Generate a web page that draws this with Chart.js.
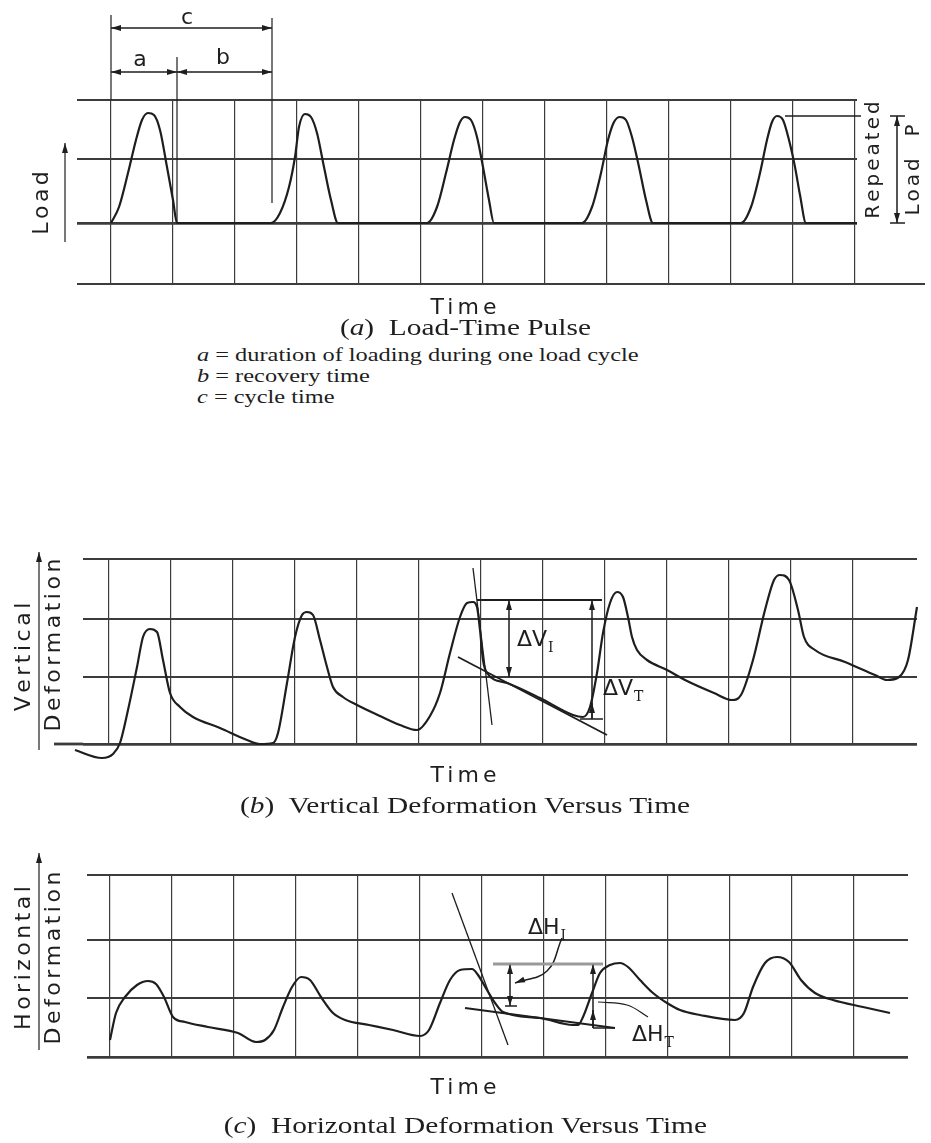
<!DOCTYPE html>
<html>
<head>
<meta charset="utf-8">
<title>Repeated load test: load and deformation versus time</title>
<script src="https://cdn.jsdelivr.net/npm/chart.js@4.4.1/dist/chart.umd.min.js"></script>
<style>
  body { margin: 0; background: #fff; }
  #page { position: relative; width: 931px; height: 1143px; overflow: hidden; background: #fff; }
  canvas { position: absolute; left: 0; }
  .time { position: absolute; left: 0; width: 931px; text-align: center; font: 22px/30px "DejaVu Sans", sans-serif; letter-spacing: 4px; color: #1e1e1e; }
  .cap { position: absolute; left: 0; width: 931px; text-align: center; color: #1e1e1e; }
  .cap span { display: inline-block; font: 23.5px/26px "Liberation Serif", serif; transform: scaleX(1.25); }
  .defs { position: absolute; left: 197px; font: 19.5px/21px "Liberation Serif", serif; color: #1e1e1e; transform: scaleX(1.25); transform-origin: left top; white-space: nowrap; }
</style>
</head>
<body>
<div id="page">
  <canvas id="loadChart" width="931" height="300" style="top:0"></canvas>
  <div class="time" style="top:292px">Time</div>
  <div class="cap" style="top:314px"><span>(<i>a</i>)&nbsp; Load-Time Pulse</span></div>
  <div class="defs" style="top:344px"><i>a</i> = duration of loading during one load cycle<br><i>b</i> = recovery time<br><i>c</i> = cycle time</div>

  <canvas id="vertChart" width="931" height="240" style="top:530px"></canvas>
  <div class="time" style="top:760px">Time</div>
  <div class="cap" style="top:792px"><span>(<i>b</i>)&nbsp; Vertical Deformation Versus Time</span></div>

  <canvas id="horizChart" width="931" height="240" style="top:840px"></canvas>
  <div class="time" style="top:1072px">Time</div>
  <div class="cap" style="top:1112px"><span>(<i>c</i>)&nbsp; Horizontal Deformation Versus Time</span></div>
</div>

<script>
// time axis: one grid division = 62 units, 0 at the first vertical line
const gridTimes = [0, 62, 124, 186, 248, 310, 372, 434, 496, 558, 620, 682, 744];

// (a) load pulses, baseline = 0
const loadLines = [-61, 0, 64, 123];
const loadTime = [
  0, 8, 17, 25, 31, 37, 43, 49, 56, 62, 66,
  160, 169, 178, 184, 188, 194, 200, 206, 213, 220, 227,
  316, 326, 335, 343, 349, 354, 360, 366, 372, 378, 383,
  471, 481, 490, 497, 503, 509, 515, 521, 528, 535, 542,
  630, 640, 649, 656, 661, 666, 672, 678, 684, 689, 695,
  746
];
const loadValue = [
  0, 16, 50, 83, 103, 110, 108, 93, 56, 23, 0,
  0, 10, 36, 66, 96, 109, 106, 90, 56, 23, 0,
  0, 16, 50, 83, 101, 106, 103, 86, 56, 23, 0,
  0, 16, 50, 83, 101, 106, 103, 86, 56, 23, 0,
  0, 16, 50, 83, 101, 107, 103, 83, 56, 28, 0,
  0
];

// (b) vertical deformation
const vertLines = [0, 67, 125, 185];
const vertTime = [
  -56, -34, -7, 4, 11, 19, 28, 34, 41, 48, 54, 61, 71, 84, 111, 138, 151,
  164, 169, 178, 186, 193, 198, 204, 211, 218, 224, 234, 248, 271, 291, 308,
  321, 331, 341, 351, 358, 364, 368, 371, 374, 378, 398, 431, 464, 474,
  481, 488, 494, 501, 508, 514, 519, 523, 528, 538, 558, 576, 605, 623,
  632, 644, 656, 665, 671, 680, 689, 695, 706, 736, 766, 778, 790, 799, 808
];
const vertValue = [
  1, -6, -14, -10, 1, 34, 77, 107, 115, 112, 84, 51, 37, 27, 16, 4, 0,
  1, 11, 61, 107, 129, 132, 129, 104, 77, 57, 47, 39, 28, 19, 14,
  28, 51, 91, 127, 141, 142, 137, 114, 84, 71, 61, 46, 29, 27,
  37, 71, 111, 141, 152, 147, 127, 107, 94, 84, 74, 64, 51, 44,
  49, 84, 134, 164, 169, 164, 134, 107, 94, 82, 69, 64, 67, 84, 137
];

// (c) horizontal deformation
const horizLines = [0, 59, 117, 182];
const horizTime = [
  0, 6, 15, 27, 38, 46, 54, 63, 75, 98, 128, 146,
  155, 164, 173, 182, 191, 200, 211, 223, 235, 259, 283, 310,
  319, 330, 340, 350, 362, 368, 377, 385, 393, 430, 463, 468,
  473, 482, 490, 500, 510, 518, 530, 543, 557, 570, 590, 625,
  634, 643, 655, 667, 679, 691, 705, 723, 753, 780
];
const horizValue = [
  17, 44, 60, 72, 76, 73, 60, 40, 35, 30, 24, 15,
  17, 27, 50, 70, 80, 77, 60, 44, 37, 32, 27, 21,
  27, 54, 77, 87, 88, 82, 67, 54, 45, 39, 32, 32,
  40, 64, 84, 92, 94, 90, 77, 64, 54, 47, 42, 37,
  44, 70, 94, 100, 95, 77, 64, 57, 50, 44
];

const ink = "#1e1e1e";
const gridInk = "#3c3c3c";
const sans = '"DejaVu Sans", sans-serif';

function curve(times, values) {
  return {
    data: times.map((t, i) => ({ x: t, y: values[i] })),
    borderColor: ink,
    borderWidth: 2.2,
    pointRadius: 0,
    cubicInterpolationMode: "monotone",
    clip: false,
  };
}

// straight or bent helper lines given in data units
function seg(points, extra) {
  return Object.assign({
    data: points.map(p => ({ x: p[0], y: p[1] })),
    borderColor: ink,
    borderWidth: 1.5,
    pointRadius: 0,
    tension: 0,
    clip: false,
  }, extra || {});
}

function head(ctx, from, to) {
  const ang = Math.atan2(to.y - from.y, to.x - from.x);
  const len = 10, half = 3;
  ctx.beginPath();
  ctx.moveTo(to.x, to.y);
  ctx.lineTo(to.x - len * Math.cos(ang) + half * Math.sin(ang), to.y - len * Math.sin(ang) - half * Math.cos(ang));
  ctx.lineTo(to.x - len * Math.cos(ang) - half * Math.sin(ang), to.y - len * Math.sin(ang) + half * Math.cos(ang));
  ctx.closePath();
  ctx.fill();
}

const arrowHeads = {
  id: "arrowHeads",
  afterDatasetsDraw(chart) {
    const ctx = chart.ctx;
    chart.data.datasets.forEach((ds, i) => {
      if (!ds.arrows) return;
      const pts = chart.getDatasetMeta(i).data;
      const n = pts.length;
      ctx.save();
      ctx.fillStyle = ds.borderColor;
      if (ds.arrows === "end" || ds.arrows === "both") head(ctx, pts[n - 2], pts[n - 1]);
      if (ds.arrows === "start" || ds.arrows === "both") head(ctx, pts[1], pts[0]);
      ctx.restore();
    });
  },
};

function spaced(ctx, text, gap) {
  const chars = [...text];
  const widths = chars.map(c => ctx.measureText(c).width);
  const total = widths.reduce((a, b) => a + b, 0) + gap * (chars.length - 1);
  let x = -total / 2;
  ctx.textAlign = "left";
  chars.forEach((c, i) => {
    ctx.fillText(c, x, 0);
    x += widths[i] + gap;
  });
}

function notes(items) {
  return {
    id: "notes",
    afterDraw(chart) {
      const ctx = chart.ctx;
      const xs = chart.scales.x, ys = chart.scales.y;
      ctx.save();
      ctx.fillStyle = ink;
      ctx.textBaseline = "middle";
      items.forEach(it => {
        ctx.save();
        ctx.translate(xs.getPixelForValue(it.t), ys.getPixelForValue(it.v));
        if (it.rot) ctx.rotate(it.rot * Math.PI / 180);
        ctx.font = it.size + "px " + sans;
        if (it.sub) {
          ctx.textAlign = "left";
          ctx.fillText(it.text, 0, 0);
          const w = ctx.measureText(it.text).width;
          ctx.font = Math.round(it.size * 0.62) + 'px "DejaVu Serif", serif';
          ctx.fillText(it.sub, w + 1, it.size * 0.4);
        } else {
          spaced(ctx, it.text, it.gap || 0);
        }
        ctx.restore();
      });
      ctx.restore();
    },
  };
}

function makeChart(id, p) {
  return new Chart(document.getElementById(id), {
    type: "line",
    data: { datasets: p.datasets },
    options: {
      responsive: false,
      animation: false,
      events: [],
      layout: { padding: p.pad, autoPadding: false },
      plugins: { legend: { display: false }, tooltip: { enabled: false } },
      scales: {
        x: {
          type: "linear",
          min: p.xMin,
          max: p.xMax,
          afterBuildTicks: s => { s.ticks = gridTimes.map(v => ({ value: v })); },
          afterFit: s => { s.height = 0; },
          ticks: { display: false },
          border: { display: false },
          grid: { color: gridInk, lineWidth: 1.2, drawTicks: false },
        },
        y: {
          type: "linear",
          min: p.lines[0],
          max: p.lines[p.lines.length - 1],
          afterBuildTicks: s => { s.ticks = p.lines.map(v => ({ value: v })); },
          afterFit: s => { s.width = 0; },
          ticks: { display: false },
          border: { display: false },
          grid: {
            color: gridInk,
            drawTicks: false,
            lineWidth: c => (c.tick && c.tick.value === p.heavy ? 2.8 : 2),
          },
        },
      },
    },
    plugins: [arrowHeads, notes(p.notes)],
  });
}

// (a) Load-time pulse
makeChart("loadChart", {
  pad: { left: 77, right: 74, top: 100, bottom: 16 },
  xMin: -34, xMax: 746,
  lines: loadLines, heavy: 0,
  datasets: [
    curve(loadTime, loadValue),
    seg([[746, -61], [814, -61]], { borderWidth: 2, borderColor: gridInk }),
    seg([[0, 123], [0, 208]], { borderWidth: 1.2 }),
    seg([[66, 0], [66, 166]], { borderWidth: 1.2 }),
    seg([[161, 20], [161, 205]], { borderWidth: 1.2 }),
    seg([[0, 195], [161, 195]], { arrows: "both" }),
    seg([[0, 151], [66, 151]], { arrows: "both" }),
    seg([[66, 151], [161, 151]], { arrows: "both" }),
    seg([[674, 107], [750, 107]]),
    seg([[786, 107], [786, 0]], { arrows: "both" }),
    seg([[779, 107], [794, 107]]),
    seg([[779, 0], [794, 0]]),
    seg([[-46, -19], [-46, 80]], { arrows: "end", borderWidth: 1.2 }),
  ],
  notes: [
    { t: 76, v: 205, text: "c", size: 22 },
    { t: 29, v: 163, text: "a", size: 22 },
    { t: 112, v: 165, text: "b", size: 22 },
    { t: -69, v: 20, text: "Load", size: 22, gap: 3.5, rot: -90 },
    { t: 763, v: 63, text: "Repeated", size: 20, gap: 3, rot: -90 },
    { t: 803, v: 53, text: "Load  P", size: 20, gap: 3, rot: -90 },
  ],
});

// (b) Vertical deformation versus time
makeChart("vertChart", {
  pad: { left: 83, right: 14, top: 29, bottom: 26 },
  xMin: -26, xMax: 808,
  lines: vertLines, heavy: 0,
  datasets: [
    curve(vertTime, vertValue),
    seg([[-55, 0], [-26, 0]], { borderWidth: 2.8, borderColor: gridInk }),
    seg([[349, 87], [498, 9]], { borderWidth: 1.8 }),
    seg([[364, 176], [383, 19]], { borderWidth: 1.3 }),
    seg([[368, 144], [493, 144]], { borderWidth: 1.8 }),
    seg([[400, 144], [400, 67]], { arrows: "both" }),
    seg([[483, 25], [483, 144]], { arrows: "end" }),
    seg([[483, 25], [483, 41]], { arrows: "end" }),
    seg([[471, 25], [494, 25]]),
    seg([[-70, -6], [-70, 192]], { arrows: "end", borderWidth: 1.2 }),
  ],
  notes: [
    { t: -85, v: 87, text: "Vertical", size: 22, gap: 3.5, rot: -90 },
    { t: -55, v: 99, text: "Deformation", size: 22, gap: 3.5, rot: -90 },
    { t: 408, v: 104, text: "ΔV", sub: "I", size: 22 },
    { t: 494, v: 55, text: "ΔV", sub: "T", size: 22 },
  ],
});

// (c) Horizontal deformation versus time
makeChart("horizChart", {
  pad: { left: 87, right: 23, top: 35, bottom: 23 },
  xMin: -23, xMax: 798,
  lines: horizLines, heavy: 0,
  datasets: [
    curve(horizTime, horizValue),
    seg([[355, 49], [505, 29]], { borderWidth: 1.8 }),
    seg([[342, 164], [398, 12]], { borderWidth: 1.3 }),
    seg([[383, 93], [493, 93]], { borderWidth: 3, borderColor: "#9a9a9a" }),
    seg([[400, 93], [400, 51]], { arrows: "both" }),
    seg([[395, 51], [407, 51]]),
    seg([[483, 29], [483, 93]], { arrows: "end" }),
    seg([[483, 29], [483, 47]], { arrows: "end" }),
    seg([[483, 29], [505, 29]]),
    seg([[452, 119], [437, 86], [405, 74]], { arrows: "end", tension: 0.4 }),
    seg([[538, 40], [517, 52], [488, 55]], { tension: 0.4, borderWidth: 1.2 }),
    seg([[-71, 7], [-71, 204]], { arrows: "end", borderWidth: 1.2 }),
  ],
  notes: [
    { t: -86, v: 99, text: "Horizontal", size: 22, gap: 3.5, rot: -90 },
    { t: -56, v: 99, text: "Deformation", size: 22, gap: 3.5, rot: -90 },
    { t: 418, v: 129, text: "ΔH", sub: "I", size: 22 },
    { t: 522, v: 22, text: "ΔH", sub: "T", size: 22 },
  ],
});
</script>
</body>
</html>
